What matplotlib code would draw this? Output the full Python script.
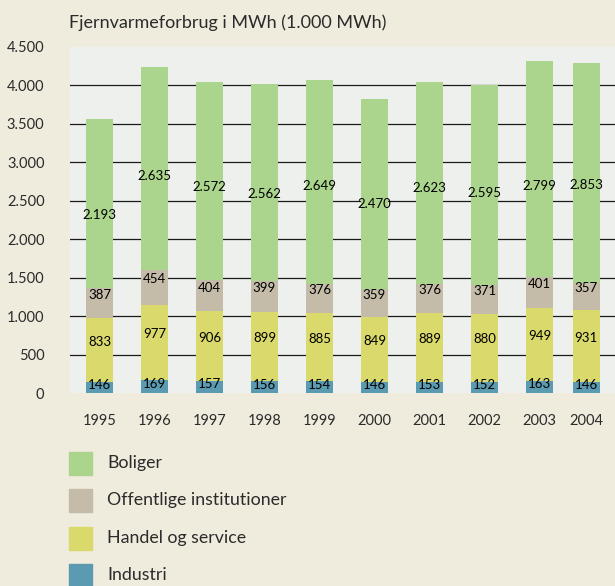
import numpy as np
import matplotlib
matplotlib.use("Agg")
import matplotlib.pyplot as plt
from matplotlib.patches import Rectangle

# data (1.000 MWh)
years = ["1995", "1996", "1997", "1998", "1999", "2000", "2001", "2002", "2003", "2004"]
industri = [146, 169, 157, 156, 154, 146, 153, 152, 163, 146]
handel = [833, 977, 906, 899, 885, 849, 889, 880, 949, 931]
offentlige = [387, 454, 404, 399, 376, 359, 376, 371, 401, 357]
boliger = [2193, 2635, 2572, 2562, 2649, 2470, 2623, 2595, 2799, 2853]

series_names = ["Industri", "Handel og service", "Offentlige institutioner", "Boliger"]
colors = ["#5b9bb1", "#dad96b", "#c4bca8", "#abd48d"]

# where the original puts the Boliger labels (not centred)
boliger_label_y = [2313, 2820, 2682, 2584, 2691, 2455, 2661, 2605, 2691, 2700]

FONT = "Lato"
TXT = "#2b2b2b"

fig = plt.figure(figsize=(6.15, 5.86), dpi=100, facecolor="#efebdd")
ax = fig.add_axes([69.5 / 615, 192.7 / 586, (615 - 69.5) / 615, 346.5 / 586])
ax.set_facecolor("#edf0ec")

x = np.arange(len(years), dtype=float)
x[-1] -= 0.15  # last bar sits a bit closer in the original

values = [industri, handel, offentlige, boliger]
bottom = np.zeros(len(years))
for name, vals, col in zip(series_names, values, colors):
    vals = np.array(vals)
    ax.bar(x, vals, width=0.49, bottom=bottom, color=col, label=name, zorder=2)
    for i, v in enumerate(vals):
        lbl = f"{v:,}".replace(",", ".")
        if name == "Boliger":
            ax.text(x[i], boliger_label_y[i], lbl, ha="center", va="center",
                    fontsize=9.5, family=FONT, color="black", zorder=3)
        else:
            off = 2 if name == "Industri" else 6
            ax.annotate(lbl, (x[i], bottom[i] + v / 2), xytext=(0, off),
                        textcoords="offset points", ha="center", va="center",
                        fontsize=9.5, family=FONT, color="black", zorder=3)
    bottom += vals

ax.set_xlim(-0.545, 9.373)
ax.set_ylim(0, 4500)
yt = np.arange(0, 4501, 500)
ax.set_yticks(yt)
ax.set_yticklabels([f"{t:,}".replace(",", ".") for t in yt], family=FONT,
                   fontsize=10.5, color=TXT)
ax.set_xticks(x)
ax.set_xticklabels(years, family=FONT, fontsize=10.5, color=TXT)
ax.tick_params(axis="both", length=0)
ax.tick_params(axis="y", pad=18)
ax.tick_params(axis="x", pad=15)
for lab in ax.get_yticklabels():
    lab.set_horizontalalignment("right")

ax.set_axisbelow(True)
ax.grid(axis="y", color="#1a1a1a", linewidth=0.9)
gl = ax.get_ygridlines()
gl[0].set_visible(False)
gl[-1].set_visible(False)
for s in ax.spines.values():
    s.set_visible(False)

fig.text(69 / 615, 1 - 23 / 586, "Fjernvarmeforbrug i MWh (1.000 MWh)", family=FONT,
         fontsize=13, color=TXT, ha="left", va="center")

# legend, drawn by hand like the original
for k, (name, col) in enumerate(zip(series_names[::-1], colors[::-1])):
    yc = 463 + k * 37.5
    fig.patches.append(Rectangle((69 / 615, 1 - (yc + 11.5) / 586), 23 / 615, 23 / 586,
                                 transform=fig.transFigure, color=col, figure=fig))
    fig.text(107 / 615, 1 - yc / 586, name, family=FONT, fontsize=12.8, color=TXT,
             ha="left", va="center")

fig.savefig("out.png", dpi=100, facecolor=fig.get_facecolor())
